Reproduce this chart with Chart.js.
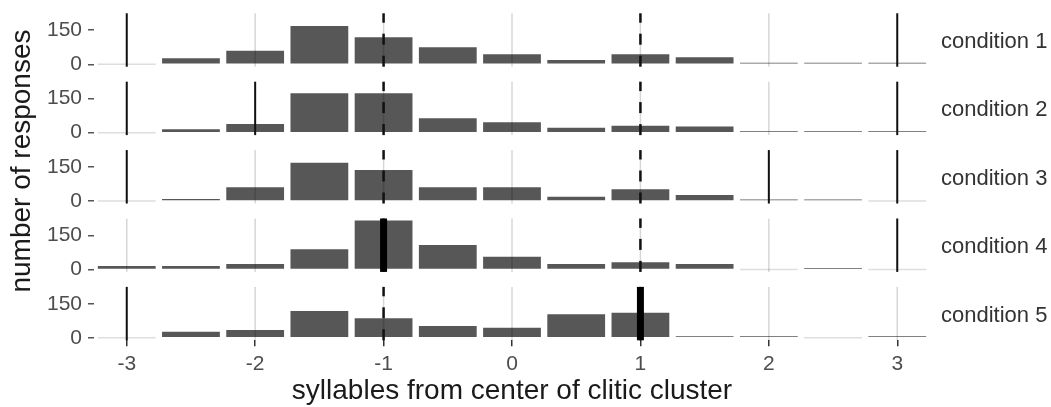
<!DOCTYPE html>
<html>
<head>
<meta charset="utf-8">
<script src="https://cdn.jsdelivr.net/npm/chart.js@4.4.1/dist/chart.umd.min.js"></script>
<style>
  html, body { margin: 0; padding: 0; background: #fff; }
  #wrap { position: relative; width: 1051px; height: 407px; font-family: 'Liberation Sans', Arial, sans-serif; }
  #chart { position: absolute; left: 0; top: 0; }
  .strip { position: absolute; left: 941px; font-size: 22px; line-height: 24px; color: #333; white-space: nowrap; }
  #ytitle { position: absolute; left: -149px; top: 144px; width: 340px; height: 34px; line-height: 34px;
            font-size: 28px; color: #1a1a1a; text-align: center; transform: rotate(-90deg); white-space: nowrap; }
</style>
</head>
<body>
<div id="wrap">
  <canvas id="chart" width="1051" height="407"></canvas>
  <div id="ytitle">number of responses</div>
</div>
<script>
//----- DATA -----//
const positions = [-3, -2.5, -2, -1.5, -1, -0.5, 0, 0.5, 1, 1.5, 2, 2.5, 3];
const conditions = ['condition 1', 'condition 2', 'condition 3', 'condition 4', 'condition 5'];
const condition1 = [0, 26, 60, 169, 119, 75, 44, 19, 44, 31, 3, 1, 3];
const condition2 = [0, 15, 38, 174, 174, 64, 46, 22, 30, 27, 2, 2, 2];
const condition3 = [0, 9, 61, 169, 137, 61, 61, 19, 52, 27, 4, 1, 0];
const condition4 = [15, 15, 24, 89, 216, 108, 56, 24, 32, 24, 0, 3, 0];
const condition5 = [0, 27, 35, 119, 86, 52, 45, 104, 111, 1, 1, 0, 1];
const series = [condition1, condition2, condition3, condition4, condition5];

const xTicks = [-3, -2, -1, 0, 1, 2, 3];
const yTicks = [0, 150];

// reference lines per condition
const markedLines = [[-3, 3], [-3, -2, 3], [-3, 2, 3], [3], [-3]];
const boldLines = [[], [], [], [-1], [1]];
const dashedLines = [-1, 1];

//----- LAYOUT -----//
const FONT = "'Liberation Sans', Arial, sans-serif";
const PANEL_H = 53.4;
const GAP = 15;
const Y_MIN = -10.7, Y_MAX = 224.7;
const X_MIN = -3.255, X_MAX = 3.255;

// strip labels
conditions.forEach((name, k) => {
  const d = document.createElement('div');
  d.className = 'strip';
  d.style.top = (29 + k * (PANEL_H + GAP)) + 'px';
  d.textContent = name;
  document.getElementById('wrap').appendChild(d);
});

//----- CONFIG -----//
const scales = {
  x: {
    type: 'linear',
    position: 'bottom',
    min: X_MIN,
    max: X_MAX,
    offset: false,
    afterBuildTicks: s => { s.ticks = xTicks.map(v => ({ value: v })); },
    afterFit: s => { s.height = 66.7; },
    grid: { drawOnChartArea: false, offset: false, color: '#333', lineWidth: 1.5, tickLength: 6 },
    border: { display: false },
    ticks: { color: '#4d4d4d', font: { size: 21, family: FONT }, padding: 5, maxRotation: 0, autoSkip: false },
    title: {
      display: true,
      text: 'syllables from center of clitic cluster',
      color: '#1a1a1a',
      font: { size: 28, family: FONT, lineHeight: 1.1 },
      padding: 0
    }
  }
};

series.forEach((vals, k) => {
  const last = k === series.length - 1;
  const gapUnits = last ? 0 : GAP / PANEL_H * (Y_MAX - Y_MIN);
  scales['y' + (k + 1)] = {
    type: 'linear',
    position: 'left',
    stack: 'panels',
    stackWeight: PANEL_H + (last ? 0 : GAP),
    weight: series.length - k,
    min: Y_MIN - gapUnits,
    max: Y_MAX,
    afterBuildTicks: s => { s.ticks = yTicks.map(v => ({ value: v })); },
    afterFit: s => { s.width = 94; s.paddingTop = 0; s.paddingBottom = 0; },
    grid: { drawOnChartArea: false, color: '#555', lineWidth: 1.5, tickLength: 6 },
    border: { display: false },
    ticks: { color: '#4d4d4d', font: { size: 21, family: FONT }, padding: 6 }
  };
});

const panelLines = {
  id: 'panelLines',
  afterDatasetsDraw(chart) {
    const ctx = chart.ctx;
    const xs = chart.scales.x;
    series.forEach((vals, k) => {
      const ys = chart.scales['y' + (k + 1)];
      const top = ys.getPixelForValue(Y_MAX);
      const bottom = ys.getPixelForValue(Y_MIN);
      const stroke = (v, color, width, dash) => {
        const px = xs.getPixelForValue(v);
        ctx.save();
        ctx.beginPath();
        ctx.strokeStyle = color;
        ctx.lineWidth = width;
        ctx.setLineDash(dash || []);
        ctx.moveTo(px, bottom);
        ctx.lineTo(px, top);
        ctx.stroke();
        ctx.restore();
      };
      xTicks.forEach(v => stroke(v, 'rgba(0,0,0,0.16)', 1.5));
      markedLines[k].forEach(v => stroke(v, '#111', 2));
      dashedLines.forEach(v => stroke(v, '#111', 2.5, [11, 11]));
      boldLines[k].forEach(v => stroke(v, '#000', 7));
    });
  }
};

const config = {
  type: 'bar',
  data: {
    datasets: series.map((vals, k) => ({
      label: conditions[k],
      data: positions.map((p, i) => ({ x: p, y: vals[i] })),
      yAxisID: 'y' + (k + 1),
      grouped: false,
      barPercentage: 0.9,
      categoryPercentage: 1,
      minBarLength: 1.5,
      borderWidth: 0,
      backgroundColor: c => (c.raw && c.raw.y === 0 ? '#dedede' : '#575757')
    }))
  },
  options: {
    responsive: false,
    animation: false,
    devicePixelRatio: 1,
    layout: { padding: { top: 13.3, right: 121, left: 0, bottom: 0 } },
    plugins: { legend: { display: false }, tooltip: { enabled: false } },
    scales: scales
  },
  plugins: [panelLines]
};

//----- RENDER -----//
const responses = new Chart(document.getElementById('chart'), config);
</script>
</body>
</html>
